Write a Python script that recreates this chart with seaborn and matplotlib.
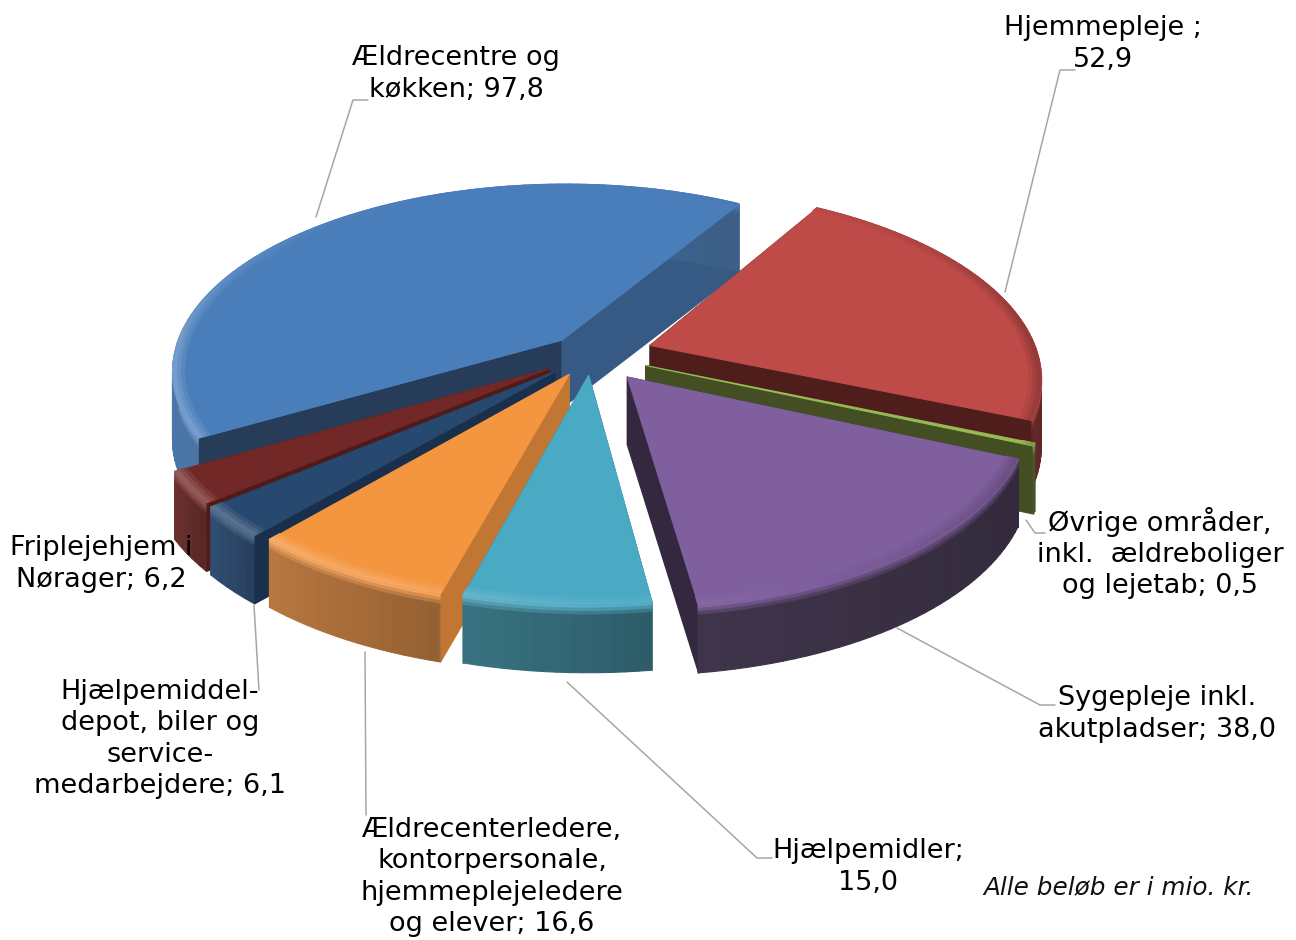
import numpy as np
import pandas as pd
import matplotlib
matplotlib.use('Agg')
import matplotlib.pyplot as plt
from matplotlib.collections import PolyCollection
from matplotlib.colors import to_rgb
import seaborn as sns

# values (mio. kr.)
labels = ['Ældrecentre og\nkøkken; 97,8', 'Hjemmepleje ;\n52,9',
          'Øvrige områder,\ninkl.  ældreboliger\nog lejetab; 0,5',
          'Sygepleje inkl.\nakutpladser; 38,0', 'Hjælpemidler;\n15,0',
          'Ældrecenterledere,\nkontorpersonale,\nhjemmeplejeledere\nog elever; 16,6',
          'Hjælpemiddel-\ndepot, biler og\nservice-\nmedarbejdere; 6,1',
          'Friplejehjem i\nNørager; 6,2']
values = [97.8, 52.9, 0.5, 38.0, 15.0, 16.6, 6.1, 6.2]
note = 'Alle beløb er i mio. kr.'

# style per slice
explode = [0.11, 0.16, 0.15, 0.15, 0.11, 0.12, 0.13, 0.13]
top_col = ['#4A7EBB', '#BE4B48', '#98B954', '#7F5F9E', '#4AA9C3', '#F49540', '#28496F', '#722826']
outer_col = ['#3F6DA3', '#6B2422', '#434F22', '#332840', '#2C6A7A', '#B46F33', '#23436A', '#632321']
side_start = ['#263C58', '#4F1D1C', '#434F22', '#332840', '#2C6A7A', '#C17733', '#1A2F4B', '#501A18']
side_end = ['#375A84', '#4F1D1C', '#434F22', '#332840', '#2C6A7A', '#C17733', '#1A2F4B', '#501A18']

# label positions (px) and leader lines
label_xy = [(456, 74), (1103, 44), (1160, 553), (1157, 714), (868, 867),
            (492, 877), (160, 739), (101, 564)]
leader_lines = [[(316, 217), (353, 100), (368, 100)],
                [(1005, 292), (1060, 70), (1075, 70)],
                [(1026, 520), (1035, 533), (1045, 533)],
                [(897, 628), (1040, 705), (1055, 705)],
                [(567, 682), (757, 858), (772, 858)],
                [(365, 652), (366, 815)],
                [(254, 605), (259, 690)]]

first_angle = 210.0
cx, cy = 591.0, 354.0
radius = 388.0
height = 68.0
tilt = np.radians(28.5)
dist = 5.4

df = pd.DataFrame({'label': labels, 'value': values, 'explode': explode})
df['sweep'] = df['value'] / df['value'].sum() * 360
df['start'] = first_angle - df['sweep'].cumsum().shift(fill_value=0)
df['end'] = df['start'] - df['sweep']
df['mid'] = (df['start'] + df['end']) / 2

sns.set_theme(style='white')
plt.rcParams['font.family'] = ['DejaVu Sans']

fig = plt.figure(figsize=(12.96, 9.40), dpi=100)
ax = fig.add_axes([0, 0, 1, 1])
ax.set_xlim(0, 1296)
ax.set_ylim(940, 0)
ax.axis('off')
sns.despine(ax=ax, left=True, bottom=True)


def proj(x, y, z=0.0):
    s = dist / (dist + y * np.cos(tilt))
    return cx + radius * x * s, cy - radius * y * np.sin(tilt) * s + z * height


def mix(c1, c2, t):
    a, b = np.array(to_rgb(c1)), np.array(to_rgb(c2))
    return tuple(a + (b - a) * t)


def add(ax, polys, cols):
    ax.add_collection(PolyCollection(polys, facecolors=cols, edgecolors=cols, linewidths=0.8))


def lit_edge(i, a):
    # rim is lit from the lower left, dark at the right, nothing at the back
    lit = np.cos(a + np.radians(160)) * (1 - max(0.0, np.sin(a)))
    return mix(top_col[i], '#ffffff' if lit > 0 else '#000000', 0.24 * abs(lit))


def draw_slice(row, i):
    ox = row['explode'] * np.cos(np.radians(row['mid']))
    oy = row['explode'] * np.sin(np.radians(row['mid']))
    ang = np.radians(np.linspace(row['start'], row['end'], max(4, int(row['sweep'] / 1.5))))
    apex = (ox, oy)

    def rim(a, r=1.0, z=0.0):
        return proj(ox + r * np.cos(a), oy + r * np.sin(a), z)

    # side walls
    for a, c in ((ang[0], side_start[i]), (ang[-1], side_end[i])):
        add(ax, [[proj(*apex), rim(a), rim(a, z=1.0), proj(*apex, 1.0)]], [c])

    # outer wall, lighter to the left, with a soft bevel at the top
    polys, cols = [], []
    bands = [0, 0.05, 0.1, 0.15, 0.2, 1.0]
    cmin, cmax = np.cos(ang).min(), np.cos(ang).max()
    for a0, a1 in zip(ang[:-1], ang[1:]):
        u = (np.cos((a0 + a1) / 2) - cmin) / (cmax - cmin + 1e-9)
        wall = mix(mix(outer_col[i], '#ffffff', 0.06), '#000000', 0.2 * u)
        edge = lit_edge(i, (a0 + a1) / 2)
        for k in range(len(bands) - 1):
            polys.append([rim(a0, z=bands[k]), rim(a1, z=bands[k]), rim(a1, z=bands[k + 1]), rim(a0, z=bands[k + 1])])
            cols.append(mix(edge, wall, min(1.0, k / 3)))
    add(ax, polys, cols)

    # top face
    top = [proj(*apex)] + [rim(a) for a in ang]
    add(ax, [top], [top_col[i]])

    # bevel on the top face
    polys, cols = [], []
    rings = [0.97, 0.98, 0.99, 1.0]
    for a0, a1 in zip(ang[:-1], ang[1:]):
        edge = lit_edge(i, (a0 + a1) / 2)
        for k in range(len(rings) - 1):
            polys.append([rim(a0, rings[k]), rim(a1, rings[k]), rim(a1, rings[k + 1]), rim(a0, rings[k + 1])])
            cols.append(mix(top_col[i], edge, (k + 1) / 3))
    add(ax, polys, cols)


# back slices first
order = np.sin(np.radians(df['mid'])).sort_values(ascending=False).index
for i in order:
    draw_slice(df.loc[i], i)

for line in leader_lines:
    xs, ys = zip(*line)
    ax.plot(xs, ys, color='#A6A6A6', lw=1.1, zorder=5)

for lab, (x, y) in zip(labels, label_xy):
    ax.text(x, y, lab, ha='center', va='center', fontsize=19.5, color='black',
            linespacing=1.27, zorder=6)
ax.text(1118, 887, note, ha='center', va='center', fontsize=17.8, style='italic', color='#111111')

fig.savefig('out.png', dpi=100, facecolor='white')
